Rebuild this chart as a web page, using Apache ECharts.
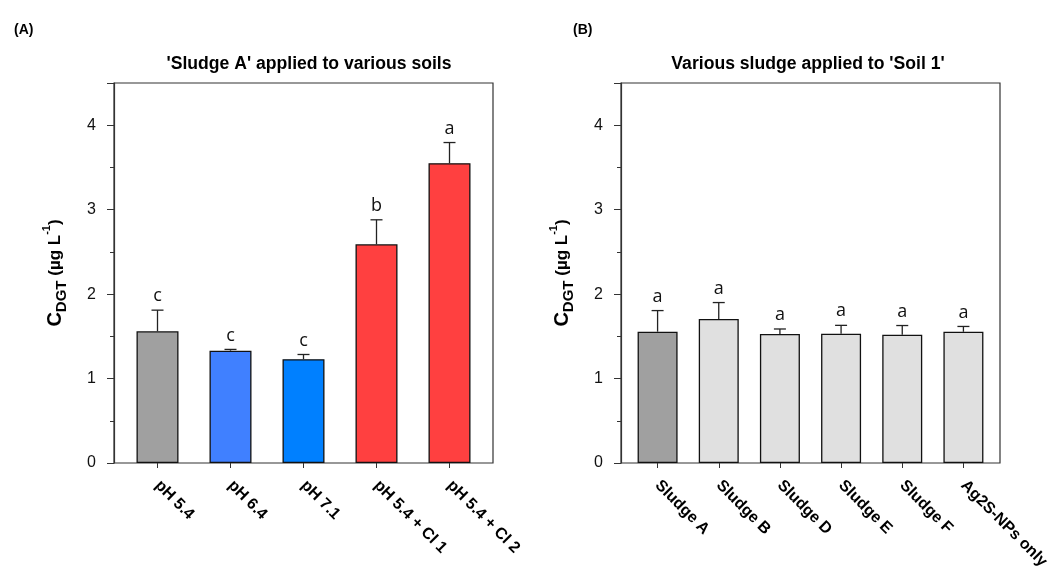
<!DOCTYPE html>
<html>
<head>
<meta charset="utf-8">
<script src="https://cdn.jsdelivr.net/npm/echarts@6/dist/echarts.min.js"></script>
<style>
html,body{margin:0;padding:0;background:#fff;}
#chart{width:1055px;height:572px;}
</style>
</head>
<body>
<div id="chart"></div>
<script>
// ---- Data ----
const catsA = ['pH 5.4', 'pH 6.4', 'pH 7.1', 'pH 5.4 + Cl 1', 'pH 5.4 + Cl 2'];
const valsA = [1.56, 1.33, 1.23, 2.59, 3.55];
const errA = [0.25, 0.015, 0.055, 0.29, 0.245];
const lettersA = ['c', 'c', 'c', 'b', 'a'];
const colorsA = ['#a0a0a0', '#4080ff', '#0080ff', '#ff4040', '#ff4040'];

const catsB = ['Sludge A', 'Sludge B', 'Sludge D', 'Sludge E', 'Sludge F', 'Ag2S-NPs only'];
const valsB = [1.555, 1.705, 1.527, 1.53, 1.518, 1.554];
const errB = [0.25, 0.195, 0.06, 0.10, 0.11, 0.063];
const lettersB = ['a', 'a', 'a', 'a', 'a', 'a'];
const colorsB = ['#a0a0a0', '#e0e0e0', '#e0e0e0', '#e0e0e0', '#e0e0e0', '#e0e0e0'];

const yTicks = { min: 0, max: 4.5, interval: 1 };

// ---- Chart ----
const chart = echarts.init(document.getElementById('chart'));
const FONT = 'Liberation Sans, Arial, sans-serif';
const AX = '#333';

const yName = '{c|C}{s|DGT}{n| (µg L}{p|-1}{n|)}';
const yRich = {
  c: { fontSize: 20, fontWeight: 'bold', fontFamily: FONT, color: '#000', lineHeight: 28, verticalAlign: 'middle' },
  s: { fontSize: 15, fontWeight: 'bold', fontFamily: FONT, color: '#000', lineHeight: 28, verticalAlign: 'bottom' },
  n: { fontSize: 17, fontWeight: 'bold', fontFamily: FONT, color: '#000', lineHeight: 28, verticalAlign: 'middle' },
  p: { fontSize: 11, fontWeight: 'bold', fontFamily: FONT, color: '#000', lineHeight: 28, verticalAlign: 'top' }
};

function frameY(gridIndex) {
  return {
    type: 'value', gridIndex: gridIndex, min: yTicks.min, max: yTicks.max, interval: yTicks.interval,
    axisLine: { show: true, lineStyle: { color: AX, width: 1.2 } },
    axisTick: { show: true, length: 7, lineStyle: { color: AX, width: 1 } },
    minorTick: { show: true, splitNumber: 2, length: 4, lineStyle: { color: AX, width: 1 } },
    axisLabel: { fontSize: 16, color: '#111', fontFamily: FONT, margin: 18, showMaxLabel: false },
    splitLine: { show: false },
    name: yName, nameLocation: 'middle', nameGap: 45, nameRotate: 90,
    nameTextStyle: { rich: yRich }
  };
}
function innerY(gridIndex) {
  return { type: 'value', gridIndex: gridIndex, min: yTicks.min, max: yTicks.max, interval: yTicks.interval, show: false };
}
function innerX(gridIndex, cats) {
  return {
    type: 'category', gridIndex: gridIndex, data: cats,
    axisLine: { show: false },
    axisTick: { show: true, alignWithLabel: true, length: 5, lineStyle: { color: AX, width: 1 } },
    axisLabel: { rotate: -45, fontSize: 16, fontWeight: 'bold', color: '#000', fontFamily: FONT, margin: 20, interval: 0 }
  };
}
function frameX(gridIndex) {
  return { type: 'value', gridIndex: gridIndex, min: 0, max: 1, show: false };
}

function errRender(letters) {
  return function (params, api) {
    const i = api.value(0), v = api.value(1), e = api.value(2);
    const b = api.coord([i, v]);
    const t = api.coord([i, v + e]);
    const cw = 6;
    return {
      type: 'group',
      children: [
        { type: 'line', shape: { x1: b[0], y1: b[1], x2: t[0], y2: t[1] }, style: { stroke: '#222', lineWidth: 1.3 } },
        { type: 'line', shape: { x1: t[0] - cw, y1: t[1], x2: t[0] + cw, y2: t[1] }, style: { stroke: '#222', lineWidth: 1.3 } },
        { type: 'text', x: t[0], y: t[1] - 5, style: { text: letters[params.dataIndex], align: 'center', verticalAlign: 'bottom', fontSize: 18, fontFamily: 'Open Sans, sans-serif', fill: '#111' } }
      ]
    };
  };
}

function barSeries(xi, vals, colors, width) {
  return {
    type: 'bar', xAxisIndex: xi, yAxisIndex: xi, barWidth: width,
    data: vals.map((v, i) => ({ value: v, itemStyle: { color: colors[i] } })),
    itemStyle: { borderColor: '#111', borderWidth: 1.3 },
    z: 3
  };
}
function errSeries(xi, vals, errs, letters) {
  return {
    type: 'custom', xAxisIndex: xi, yAxisIndex: xi, z: 4,
    renderItem: errRender(letters),
    data: vals.map((v, i) => [i, v, errs[i]])
  };
}

const gridTop = 83, gridH = 380;
const option = {
  animation: false,
  backgroundColor: '#fff',
  title: [
    { text: '(A)', left: 9, top: 18, textStyle: { fontSize: 14, fontWeight: 'bold', fontFamily: FONT, color: '#000' } },
    { text: '(B)', left: 568, top: 18, textStyle: { fontSize: 14, fontWeight: 'bold', fontFamily: FONT, color: '#000' } },
    { text: "'Sludge A' applied to various soils", left: 304, top: 50, textAlign: 'center', textStyle: { fontSize: 17.6, fontWeight: 'bold', fontFamily: FONT, color: '#000' } },
    { text: "Various sludge applied to 'Soil 1'", left: 803, top: 50, textAlign: 'center', textStyle: { fontSize: 17.6, fontWeight: 'bold', fontFamily: FONT, color: '#000' } }
  ],
  grid: [
    { left: 114, top: gridTop, width: 379, height: gridH, show: true, borderColor: AX, borderWidth: 1.2, backgroundColor: 'transparent' },
    { left: 121, top: gridTop, width: 365, height: gridH },
    { left: 621, top: gridTop, width: 379, height: gridH, show: true, borderColor: AX, borderWidth: 1.2, backgroundColor: 'transparent' },
    { left: 627, top: gridTop, width: 367, height: gridH }
  ],
  xAxis: [frameX(0), innerX(1, catsA), frameX(2), innerX(3, catsB)],
  yAxis: [frameY(0), innerY(1), frameY(2), innerY(3)],
  series: [
    barSeries(1, valsA, colorsA, 42),
    errSeries(1, valsA, errA, lettersA),
    barSeries(3, valsB, colorsB, 40),
    errSeries(3, valsB, errB, lettersB)
  ]
};
chart.setOption(option);
</script>
</body>
</html>
